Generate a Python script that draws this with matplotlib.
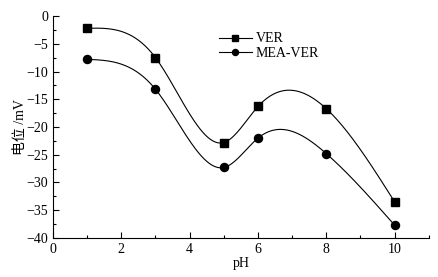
import numpy as np
import matplotlib
matplotlib.use("Agg")
import matplotlib.pyplot as plt
from matplotlib.ticker import MultipleLocator

ph = [1, 3, 5, 6, 8, 10]
ver = [-2.2, -7.5, -22.8, -16.3, -16.7, -33.5]
mea_ver = [-7.8, -13.2, -27.3, -22.0, -24.8, -37.7]

plt.rcParams['font.family'] = ['Liberation Serif', 'Noto Sans CJK SC']
plt.rcParams['font.size'] = 10


def natural_spline(x, y, n=300):
    x = np.asarray(x, float); y = np.asarray(y, float)
    k = len(x); h = np.diff(x)
    A = np.zeros((k, k)); b = np.zeros(k)
    A[0, 0] = 1; A[-1, -1] = 1
    for i in range(1, k - 1):
        A[i, i - 1] = h[i - 1]; A[i, i] = 2 * (h[i - 1] + h[i]); A[i, i + 1] = h[i]
        b[i] = 3 * ((y[i + 1] - y[i]) / h[i] - (y[i] - y[i - 1]) / h[i - 1])
    c = np.linalg.solve(A, b)
    bb = (np.diff(y) / h) - h * (2 * c[:-1] + c[1:]) / 3
    d = np.diff(c) / (3 * h)
    xs = np.linspace(x[0], x[-1], n)
    idx = np.clip(np.searchsorted(x, xs) - 1, 0, k - 2)
    dx = xs - x[idx]
    ys = y[idx] + bb[idx] * dx + c[idx] * dx ** 2 + d[idx] * dx ** 3
    return xs, ys


fig = plt.figure(figsize=(4.38, 2.77), dpi=100)
ax = fig.add_axes([0.121, 0.141, 0.858, 0.801])

for data, mk, ms, lab in [(ver, 's', 5.2, 'VER'), (mea_ver, 'o', 5.8, 'MEA-VER')]:
    xs, ys = natural_spline(ph, data)
    ax.plot(xs, ys, color='black', lw=0.8)
    ax.plot(ph, data, linestyle='none', marker=mk, ms=ms, color='black')
    ax.plot([], [], color='black', lw=0.8, marker=mk, ms=ms * 0.75, label=lab)

ax.set_xlim(0, 11)
ax.set_ylim(-40, 0)
ax.xaxis.set_major_locator(MultipleLocator(2))
ax.xaxis.set_minor_locator(MultipleLocator(1))
ax.yaxis.set_major_locator(MultipleLocator(5))
ax.yaxis.set_minor_locator(MultipleLocator(2.5))
ax.tick_params(which='both', direction='in', width=0.8)
ax.tick_params(which='major', length=4)
ax.tick_params(which='minor', length=2.5)
for s in ['top', 'right']:
    ax.spines[s].set_visible(False)
for s in ['left', 'bottom']:
    ax.spines[s].set_linewidth(0.8)

ax.set_xlabel('pH', labelpad=1)
ax.set_ylabel('电位 /mV')
ax.yaxis.set_label_coords(-0.068, 0.5)
ax.legend(loc='upper left', bbox_to_anchor=(0.415, 0.97), frameon=False,
          handlelength=2.4, handletextpad=0.25, labelspacing=0.1, borderpad=0.2)

fig.savefig('out.png', dpi=100)
